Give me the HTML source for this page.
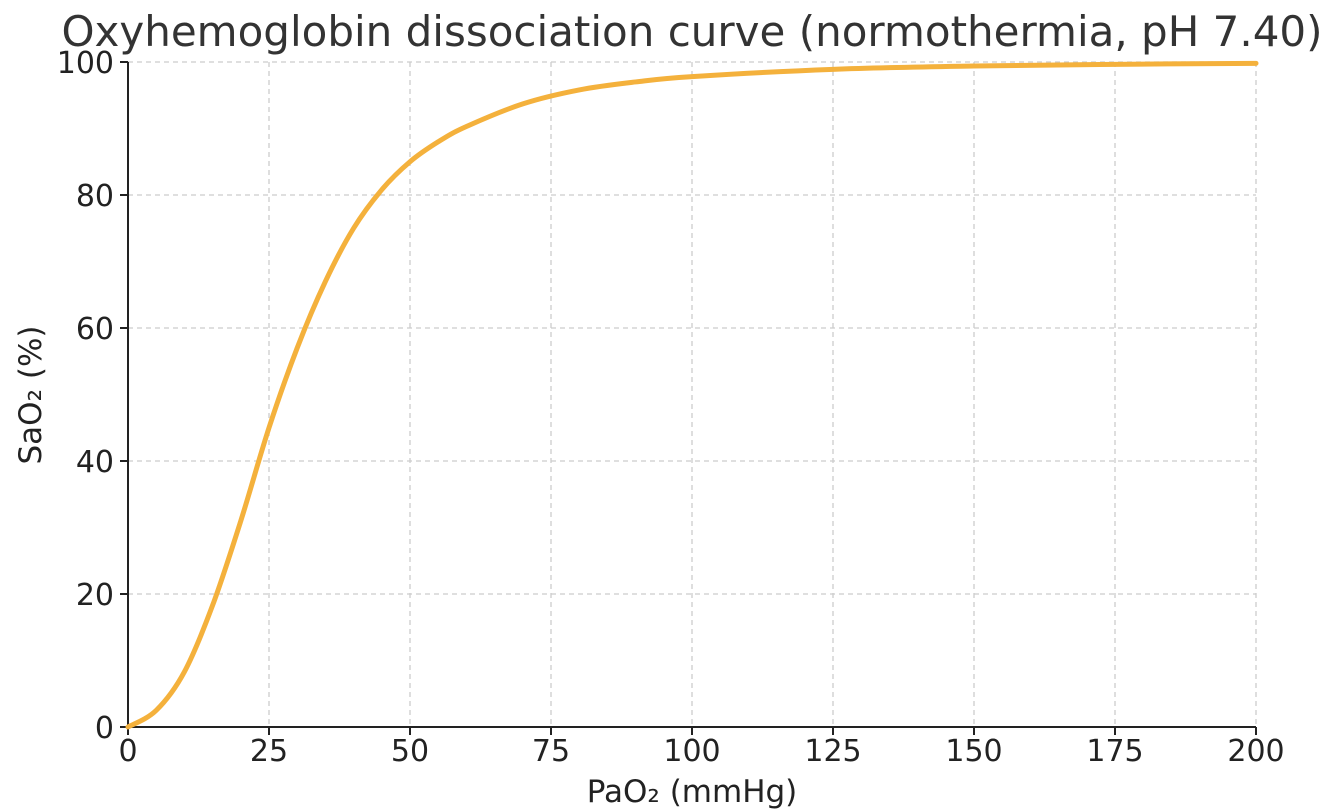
<!DOCTYPE html>
<html><head><meta charset="utf-8">
<style>
html,body{margin:0;padding:0;background:#fff;}
svg{display:block;font-family:"DejaVu Sans","Liberation Sans",sans-serif;}
</style></head>
<body>
<svg id="chart" width="1332" height="812" viewBox="0 0 1332 812">
<text x="692" y="46" text-anchor="middle" font-size="42" fill="#333">Oxyhemoglobin dissociation curve (normothermia, pH 7.40)</text>
<g id="grid"></g>
<g id="axes"></g>
<path id="curve" fill="none" stroke="#f4b13c" stroke-width="5" stroke-linejoin="round" stroke-linecap="round"></path>
<text x="692" y="802" text-anchor="middle" font-size="31" fill="#222">PaO₂ (mmHg)</text>
<text transform="translate(41,395) rotate(-90)" text-anchor="middle" font-size="31" fill="#222">SaO₂ (%)</text>
</svg>
<script>
const pao2 = [0,5,10,15,20,25,30,35,40,45,50,55,60,70,80,90,100,125,150,175,200];
const sao2 = [0,2.5,8.3,18.3,31,45,57,67,75,80.8,85,88,90.3,93.7,95.8,97,97.8,98.9,99.4,99.65,99.8];
const xTicks = [0,25,50,75,100,125,150,175,200];
const yTicks = [0,20,40,60,80,100];
const L=128,R=1256,T=62,B=727;
const xs=v=>L+(v/200)*(R-L);
const ys=v=>B-(v/100)*(B-T);
const NS="http://www.w3.org/2000/svg";
const grid=document.getElementById('grid'), axes=document.getElementById('axes');
function mk(tag,attrs,parent){const e=document.createElementNS(NS,tag);for(const k in attrs)e.setAttribute(k,attrs[k]);parent.appendChild(e);return e;}
xTicks.forEach(t=>{
  const g=mk('line',{x1:xs(t),x2:xs(t),y1:T,y2:B,stroke:'#cccccc','stroke-width':1.3,'stroke-dasharray':'5,4'},grid);
  
  
  const tk=mk('line',{x1:xs(t),x2:xs(t),y1:B,y2:B+8,stroke:'#222','stroke-width':2},axes);
  
  
  const lb=mk('text',{x:xs(t),y:B+34,'text-anchor':'middle','font-size':30,fill:'#222'},axes);
  lb.textContent=t;
  
  
});
yTicks.forEach(t=>{
  const g=mk('line',{x1:L,x2:R,y1:ys(t),y2:ys(t),stroke:'#cccccc','stroke-width':1.3,'stroke-dasharray':'5,4'},grid);
  
  
  const tk=mk('line',{x1:L-8,x2:L,y1:ys(t),y2:ys(t),stroke:'#222','stroke-width':2},axes);
  
  
  const lb=mk('text',{x:L-14,y:ys(t)+11,'text-anchor':'end','font-size':30,fill:'#222'},axes);
  lb.textContent=t;
  
  
});
const ya=mk('line',{x1:L,x2:L,y1:T,y2:B,stroke:'#222','stroke-width':2},axes);


const xa=mk('line',{x1:L,x2:R,y1:B,y2:B,stroke:'#222','stroke-width':2},axes);


const P=pao2.map((v,i)=>[xs(v),ys(sao2[i])]);
let d=`M${P[0][0]},${P[0][1]}`;
for(let i=0;i<P.length-1;i++){
  const p0=P[i-1]||P[i],p1=P[i],p2=P[i+1],p3=P[i+2]||P[i+1];
  const c1=[p1[0]+(p2[0]-p0[0])/6,p1[1]+(p2[1]-p0[1])/6];
  const c2=[p2[0]-(p3[0]-p1[0])/6,p2[1]-(p3[1]-p1[1])/6];
  d+=` C${c1[0]},${c1[1]} ${c2[0]},${c2[1]} ${p2[0]},${p2[1]}`;
}
document.getElementById('curve').setAttribute('d',d);
</script>
</body></html>
